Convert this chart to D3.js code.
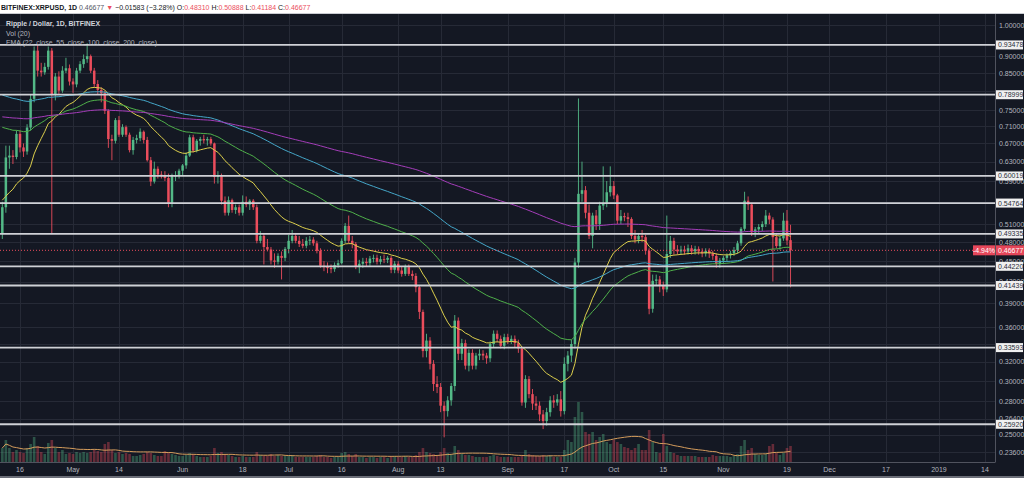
<!DOCTYPE html>
<html><head><meta charset="utf-8">
<script src="https://cdn.jsdelivr.net/npm/d3@7"></script>
<style>
html,body{margin:0;padding:0;background:#141823;}
svg{display:block;font-family:"Liberation Sans",Arial,sans-serif;}
</style></head><body>
<svg id="c" width="1024" height="478"></svg>
<script>
// ---------------- DATA ----------------
const startDate = "2018-04-11"; // first daily candle
// [open, high, low, close] per day
const ohlc = [
[.493,.55,.485,.540],[.540,.665,.53,.639],[.639,.665,.615,.643],[.643,.655,.625,.640],[.640,.70,.635,.692],
[.692,.70,.65,.661],[.661,.67,.64,.652],[.652,.715,.645,.707],[.707,.79,.70,.779],[.779,.93,.77,.917],
[.917,.935,.84,.857],[.857,.88,.84,.852],[.852,.88,.845,.868],[.868,.93,.86,.917],[.917,.925,.493,.790],
[.790,.85,.775,.840],[.840,.855,.79,.801],[.801,.87,.795,.857],[.857,.895,.85,.864],[.864,.875,.815,.826],
[.826,.835,.795,.818],[.818,.865,.81,.857],[.857,.885,.85,.876],[.876,.905,.865,.891],[.891,.94,.88,.900],
[.900,.905,.85,.857],[.857,.865,.81,.819],[.819,.83,.79,.803],[.803,.81,.77,.794],[.794,.80,.74,.748],
[.748,.752,.66,.680],[.680,.69,.633,.676],[.676,.73,.67,.725],[.725,.735,.685,.690],[.690,.715,.685,.708],
[.708,.712,.685,.690],[.690,.695,.65,.655],[.655,.685,.645,.678],[.678,.69,.67,.682],[.682,.705,.675,.697],
[.697,.70,.67,.678],[.678,.685,.63,.633],[.633,.64,.58,.589],[.589,.63,.585,.615],[.615,.62,.595,.603],
[.603,.61,.595,.600],[.600,.61,.59,.596],[.596,.605,.54,.546],[.546,.605,.54,.600],[.600,.61,.59,.601],
[.601,.615,.595,.611],[.611,.625,.60,.622],[.622,.65,.615,.643],[.643,.69,.64,.684],[.684,.69,.65,.654],
[.654,.68,.65,.676],[.676,.685,.665,.680],[.680,.69,.67,.677],[.677,.685,.665,.680],[.680,.685,.665,.670],
[.670,.672,.585,.598],[.598,.61,.585,.600],[.600,.605,.545,.552],[.552,.56,.525,.530],[.530,.56,.525,.553],
[.553,.556,.53,.535],[.535,.545,.528,.540],[.540,.545,.525,.530],[.530,.562,.525,.550],[.550,.56,.54,.545],
[.545,.555,.535,.552],[.552,.555,.535,.540],[.540,.545,.478,.482],[.482,.498,.478,.490],[.490,.495,.445,.472],
[.472,.485,.465,.468],[.468,.472,.445,.451],[.451,.462,.44,.449],[.449,.462,.445,.458],[.458,.465,.423,.455],
[.455,.472,.45,.469],[.469,.492,.462,.482],[.482,.50,.478,.490],[.490,.495,.478,.482],[.482,.49,.472,.477],
[.477,.485,.47,.474],[.474,.488,.47,.482],[.482,.49,.475,.484],[.484,.488,.474,.478],[.478,.482,.462,.466],
[.466,.47,.44,.443],[.443,.45,.435,.441],[.441,.448,.432,.440],[.440,.445,.432,.438],[.438,.448,.434,.444],
[.444,.452,.44,.447],[.447,.486,.445,.482],[.482,.512,.478,.507],[.507,.525,.478,.482],[.482,.49,.47,.477],
[.477,.48,.438,.441],[.441,.452,.432,.446],[.446,.455,.44,.449],[.449,.455,.442,.447],[.447,.458,.443,.454],
[.454,.46,.448,.455],[.455,.46,.445,.449],[.449,.458,.445,.453],[.453,.46,.447,.452],[.452,.458,.447,.455],
[.455,.458,.432,.437],[.437,.45,.432,.446],[.446,.45,.432,.436],[.436,.442,.427,.431],[.431,.445,.428,.441],
[.441,.445,.428,.431],[.431,.436,.422,.428],[.428,.432,.405,.412],[.412,.415,.37,.379],[.379,.382,.325,.332],
[.332,.352,.325,.344],[.344,.348,.312,.318],[.318,.322,.29,.297],[.297,.305,.288,.294],[.294,.298,.27,.276],
[.276,.28,.248,.271],[.271,.285,.266,.281],[.281,.298,.276,.295],[.295,.375,.29,.368],[.368,.372,.322,.329],
[.329,.346,.322,.341],[.341,.345,.312,.316],[.316,.334,.31,.330],[.330,.334,.312,.316],[.316,.33,.312,.327],
[.327,.334,.322,.329],[.329,.333,.322,.327],[.327,.33,.318,.324],[.324,.343,.32,.340],[.340,.356,.336,.352],
[.352,.356,.342,.346],[.346,.35,.335,.338],[.338,.352,.334,.348],[.348,.352,.34,.343],[.343,.35,.34,.346],
[.346,.35,.336,.341],[.341,.345,.33,.335],[.335,.337,.276,.279],[.279,.306,.274,.302],[.302,.305,.283,.287],
[.287,.292,.272,.278],[.278,.285,.272,.276],[.276,.28,.262,.268],[.268,.272,.255,.262],[.262,.274,.258,.270],
[.270,.285,.266,.281],[.281,.286,.274,.279],[.279,.287,.276,.282],[.282,.29,.266,.271],[.271,.325,.268,.318],
[.318,.332,.31,.327],[.327,.345,.32,.340],[.340,.455,.335,.448],[.448,.78,.44,.565],[.565,.63,.55,.572],
[.572,.58,.52,.530],[.530,.545,.485,.490],[.490,.53,.47,.525],[.525,.535,.50,.510],[.510,.55,.50,.543],
[.543,.62,.535,.548],[.548,.59,.54,.568],[.568,.62,.56,.580],[.580,.59,.555,.562],[.562,.565,.51,.516],
[.516,.535,.51,.524],[.524,.53,.515,.522],[.522,.53,.505,.519],[.519,.522,.485,.490],[.490,.50,.478,.484],
[.484,.495,.478,.490],[.490,.50,.48,.488],[.488,.492,.46,.466],[.466,.47,.376,.383],[.383,.43,.378,.421],
[.421,.43,.415,.423],[.423,.428,.405,.415],[.415,.42,.40,.409],[.409,.525,.405,.461],[.461,.49,.455,.482],
[.482,.487,.46,.468],[.468,.475,.46,.465],[.465,.474,.46,.468],[.468,.474,.46,.465],[.465,.476,.46,.470],
[.470,.475,.46,.465],[.465,.474,.46,.469],[.469,.473,.46,.465],[.465,.47,.456,.462],[.462,.47,.457,.466],
[.466,.47,.455,.462],[.462,.466,.452,.458],[.458,.462,.44,.446],[.446,.455,.44,.451],[.451,.458,.446,.455],
[.455,.462,.45,.459],[.459,.466,.454,.462],[.462,.472,.458,.467],[.467,.482,.462,.478],[.478,.505,.474,.502],
[.502,.569,.498,.552],[.552,.56,.535,.545],[.545,.548,.49,.496],[.496,.505,.488,.501],[.501,.51,.495,.505],
[.505,.515,.498,.510],[.510,.535,.505,.525],[.525,.53,.51,.518],[.518,.522,.42,.488],[.488,.495,.47,.4735],
[.4735,.49,.468,.486],[.486,.53,.482,.516],[.516,.535,.475,.4826],[.4831,.50888,.41184,.46677]
];
// daily volume (millions XRP)
const volumes = [
28,44,28,20,24,20,18,28,36,50,
32,20,16,38,44,28,20,24,16,18,
16,20,18,20,18,20,24,22,20,36,
40,24,18,20,16,18,16,12,12,14,
16,20,18,14,12,12,22,20,16,14,12,
12,14,18,16,12,10,10,10,12,28,18,20,16,14,12,10,10,12,10,10,10,20,14,12,12,16,12,14,12,12,
12,14,10,10,10,10,10,10,12,14,10,10,8,10,10,18,20,16,12,16,10,10,8,10,10,8,10,10,8,12,12,
10,10,12,10,10,14,20,28,20,18,16,14,20,28,18,16,32,24,16,14,14,12,10,10,10,10,12,14,12,10,10,
10,10,10,10,12,24,16,14,12,12,14,12,14,10,10,10,
24,44,40,90,120,100,60,56,60,44,50,56,40,36,
44,40,36,30,28,24,28,36,24,24,64,40,20,18,56,32,20,18,14,12,12,12,12,12,10,10,10,10,14,12,12,
12,12,10,12,16,32,44,24,28,16,14,14,16,32,36,18,14,18,28,32
];
const levels = [0.93478,0.78999,0.60019,0.54764,0.49335,0.44220,0.41439,0.33593,0.25920];
const priceTicks = [1.0,0.9,0.85,0.8,0.75,0.71,0.67,0.63,0.59,0.55,0.51,0.48,0.45,0.42,0.39,0.36,0.34,0.32,0.30,0.28,0.264,0.25,0.236];
const hiddenTickLabels = [0.8,0.55,0.34]; // covered by level boxes in the reference
const timeTicks = ["2018-04-16","2018-05-01","2018-05-14","2018-06-01","2018-06-18","2018-07-01","2018-07-16","2018-08-01","2018-08-13","2018-09-01","2018-09-17","2018-10-01","2018-10-15","2018-11-01","2018-11-19","2018-12-01","2018-12-17","2019-01-01","2019-01-14"];
const timeLabels = ["16","May","14","Jun","18","Jul","16","Aug","13","Sep","17","Oct","15","Nov","19","Dec","17","2019","14"];
const emaPeriods = [22,55,100,200];
const emaStart = [0.553,0.7075,0.789,0.733]; // EMA values at first candle
const emaColors = ["#dccf4c","#4fb04a","#45a7c9","#a43db9"];
const lastPrice = 0.46677;
const lastChangePct = "-4.94%";
// header segments and colour keys
const headerTexts = ["BITFINEX:XRPUSD, 1D"," 0.46677 ","▼"," −0.01583 (−3.28%) ","O:","0.48310"," H:","0.50888"," L:","0.41184"," C:","0.46677"];
const headerKinds = ["bold","grey","red","dark","dark","red","dark","red","dark","red","dark","red"];

// ---------------- SETUP ----------------
const W=1024,H=478, plotL=0, plotR=995, plotT=14, plotB=462;
const svg=d3.select("#c");
const parse=d3.utcParse("%Y-%m-%d");
const t0=parse(startDate);
const dates=ohlc.map((d,i)=>d3.utcDay.offset(t0,i));
const opens=ohlc.map(d=>d[0]), closes=ohlc.map(d=>d[3]);

const x=d3.scaleUtc().domain([parse("2018-04-16"),parse("2018-11-19")]).range([20,787]);
const y=d3.scaleLog().domain([1.0,0.236]).range([25,452]);
const yv=d3.scaleLinear().domain([0,100]).range([plotB,plotB-50]);

const BG="#141823", GRID="#262a36", UP="#53b987", DN="#eb4d5c", TXT="#b2b5be";

svg.append("rect").attr("width",W).attr("height",H).attr("fill",BG);
const defs=svg.append("defs");
defs.append("clipPath").attr("id","clip").append("rect").attr("x",plotL).attr("y",plotT).attr("width",plotR-plotL).attr("height",plotB-plotT);

// grid
const grid=svg.append("g");
grid.selectAll("line.h").data(priceTicks).join("line")
  .attr("x1",plotL).attr("x2",plotR).attr("y1",d=>Math.round(y(d))+0.5).attr("y2",d=>Math.round(y(d))+0.5)
  .attr("stroke",GRID).attr("stroke-width",1);
grid.selectAll("line.v").data(timeTicks).join("line")
  .attr("x1",d=>Math.round(x(parse(d)))+0.5).attr("x2",d=>Math.round(x(parse(d)))+0.5)
  .attr("y1",plotT).attr("y2",plotB).attr("stroke",GRID).attr("stroke-width",1);

const plot=svg.append("g").attr("clip-path","url(#clip)");

// volume
const volMA=volumes.map((v,i)=>d3.mean(volumes.slice(Math.max(0,i-19),i+1)));
plot.append("g").selectAll("rect").data(volumes).join("rect")
  .attr("x",(d,i)=>x(dates[i])-1.3).attr("width",2.6)
  .attr("y",d=>yv(d)).attr("height",d=>plotB-yv(d))
  .attr("fill",(d,i)=>closes[i]>=opens[i]?"rgba(83,185,135,0.38)":"rgba(235,77,92,0.38)");
plot.append("path").datum(volMA)
  .attr("d",d3.line().x((d,i)=>x(dates[i])).y(d=>yv(d)))
  .attr("fill","none").attr("stroke","#d49c5c").attr("stroke-width",1);

// candles
const cg=plot.append("g");
cg.selectAll("line").data(ohlc).join("line")
  .attr("x1",(d,i)=>x(dates[i])).attr("x2",(d,i)=>x(dates[i]))
  .attr("y1",d=>y(d[1])).attr("y2",d=>y(d[2]))
  .attr("stroke",d=>d[3]>=d[0]?UP:DN).attr("stroke-width",0.9);
cg.selectAll("rect").data(ohlc).join("rect")
  .attr("x",(d,i)=>x(dates[i])-1.25).attr("width",2.5)
  .attr("y",d=>y(Math.max(d[0],d[3])))
  .attr("height",d=>Math.max(1,Math.abs(y(d[0])-y(d[3]))))
  .attr("fill",d=>d[3]>=d[0]?UP:DN);

// EMAs
function ema(period,seed){const k=2/(period+1);let e=seed;return closes.map((c,i)=>{if(i>0)e=c*k+e*(1-k);return e;});}
emaPeriods.forEach((p,j)=>{
  const vals=ema(p,emaStart[j]);
  plot.append("path").datum(vals)
    .attr("d",d3.line().x((d,i)=>x(dates[i])).y(d=>y(d)))
    .attr("fill","none").attr("stroke",emaColors[j]).attr("stroke-width",1);
});

// horizontal levels
plot.append("g").selectAll("line").data(levels).join("line")
  .attr("x1",plotL).attr("x2",plotR).attr("y1",d=>y(d)).attr("y2",d=>y(d))
  .attr("stroke","#cfd1d6").attr("stroke-width",1.8);

// last price dotted line
svg.append("line").attr("x1",plotL).attr("x2",plotR).attr("y1",y(lastPrice)).attr("y2",y(lastPrice))
  .attr("stroke",DN).attr("stroke-width",1).attr("stroke-dasharray","1,2");

// axes frame
svg.append("line").attr("x1",plotR+0.5).attr("x2",plotR+0.5).attr("y1",plotT).attr("y2",plotB).attr("stroke","#50535e");
svg.append("line").attr("x1",0).attr("x2",plotR+0.5).attr("y1",plotB+0.5).attr("y2",plotB+0.5).attr("stroke","#50535e");
svg.append("rect").attr("x",0).attr("y",476).attr("width",W).attr("height",2).attr("fill","#6b6e78");

function txt(g,xp,yp,s,opts={}){
  const t=g.append("text").attr("x",xp).attr("y",yp)
    .attr("font-size",opts.size||7).attr("fill",opts.fill||TXT)
    .attr("text-anchor",opts.anchor||"start").attr("font-weight",opts.weight||"normal").text(s);
  if(opts.len) t.attr("textLength",opts.len).attr("lengthAdjust","spacingAndGlyphs");
  return t;
}
const fmt=d3.format(".5f");
// price axis tick labels
const ax=svg.append("g");
priceTicks.filter(p=>!hiddenTickLabels.includes(p)).forEach(p=>txt(ax,999,y(p)+2.5,fmt(p)));
// time axis labels
timeTicks.forEach((d,i)=>txt(ax,x(parse(d)),472,timeLabels[i],{anchor:"middle"}));

// level label boxes
levels.forEach(l=>{
  ax.append("rect").attr("x",996).attr("y",y(l)-4.5).attr("width",27).attr("height",9).attr("fill","#f0f0f0");
  txt(ax,998,y(l)+2.5,fmt(l),{fill:"#2a2e39"});
});
// last price boxes
ax.append("rect").attr("x",973).attr("y",y(lastPrice)-5).attr("width",22).attr("height",10).attr("fill","#e5475a");
txt(ax,984,y(lastPrice)+2.5,lastChangePct,{fill:"#fff",anchor:"middle"});
ax.append("rect").attr("x",996).attr("y",y(lastPrice)-5).attr("width",28).attr("height",10).attr("fill","#e5475a");
txt(ax,998,y(lastPrice)+2.5,fmt(lastPrice),{fill:"#fff"});

// header bar: one flowing line, sized to span ~310px like the reference
svg.append("rect").attr("x",0).attr("y",0).attr("width",W).attr("height",13).attr("fill","#ffffff");
svg.append("line").attr("x1",0).attr("x2",W).attr("y1",13.5).attr("y2",13.5).attr("stroke","#c9cbd1");
const kindFill = {bold:"#131722",grey:"#555a66",red:DN,dark:"#131722"};
const hd=svg.append("text").attr("x",1).attr("y",9.8).attr("font-size",8).attr("fill","#131722")
  .style("white-space","pre").attr("xml:space","preserve");
headerTexts.forEach((s,i)=>{
  hd.append("tspan").attr("fill",kindFill[headerKinds[i]])
    .attr("font-weight",headerKinds[i]==="bold"?"bold":"normal").text(s);
});
const natural=hd.node().getComputedTextLength();
const fs=Math.max(6,Math.min(9.5,8*310/natural));
hd.attr("font-size",fs);
const after=hd.node().getComputedTextLength();
if(after<305){ hd.attr("word-spacing",(310-after)/12); }

// legend texts
txt(svg,6,26,"Ripple / Dollar, 1D, BITFINEX",{weight:"bold",fill:"#d1d4dc",size:8,len:94});
txt(svg,6,35.5,"Vol (20)",{size:8,len:24});
txt(svg,6,45,"EMA (22, close, 55, close, 100, close, 200, close)",{size:8,len:151});
</script>
</body></html>
